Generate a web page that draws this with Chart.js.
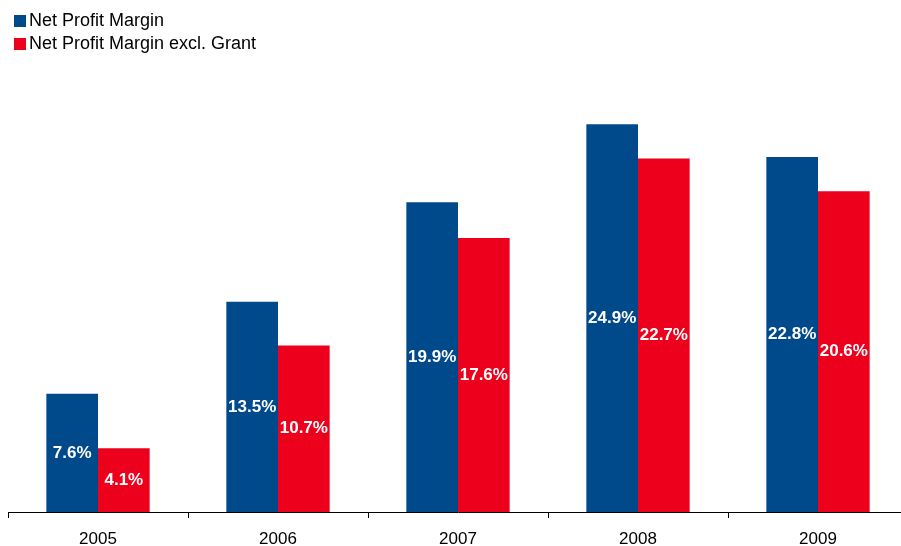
<!DOCTYPE html>
<html>
<head>
<meta charset="utf-8">
<script src="https://cdn.jsdelivr.net/npm/chart.js@4/dist/chart.umd.min.js"></script>
<style>
  html, body { margin: 0; padding: 0; background: #fff; overflow: hidden; }
  body { width: 901px; height: 546px; position: relative; font-family: "Liberation Sans", Arial, sans-serif; }
  #wrap { position: absolute; left: 0; top: 0; width: 916px; height: 546px; }
  #legend { position: absolute; left: 14px; top: 9px; z-index: 2; font-size: 18px; color: #000; }
  #legend div { display: flex; align-items: center; height: 23px; }
  #legend span.sw { display: inline-block; width: 12px; height: 12px; margin-right: 3px; }
</style>
</head>
<body>
<div id="legend"></div>
<div id="wrap"><canvas id="c"></canvas></div>
<script>
const years = ['2005', '2006', '2007', '2008', '2009'];
const netProfitMargin = [7.6, 13.5, 19.9, 24.9, 22.8];
const netProfitMarginExGrant = [4.1, 10.7, 17.6, 22.7, 20.6];
const seriesNames = ['Net Profit Margin', 'Net Profit Margin excl. Grant'];
const seriesColors = ['#004A8C', '#EC001C'];

// legend stacked in two rows, top-left
const legendEl = document.getElementById('legend');
seriesNames.forEach((name, i) => {
  const row = document.createElement('div');
  const sw = document.createElement('span');
  sw.className = 'sw';
  sw.style.background = seriesColors[i];
  row.appendChild(sw);
  row.appendChild(document.createTextNode(name));
  legendEl.appendChild(row);
});

// white percentage labels centred inside each bar
const barLabels = {
  id: 'barLabels',
  afterDatasetsDraw(chart) {
    const ctx = chart.ctx;
    ctx.save();
    ctx.font = 'bold 17px "Liberation Sans", Arial, sans-serif';
    ctx.fillStyle = '#fff';
    ctx.textAlign = 'center';
    ctx.textBaseline = 'middle';
    chart.data.datasets.forEach((ds, di) => {
      chart.getDatasetMeta(di).data.forEach((bar, i) => {
        const y = (bar.y + bar.base) / 2;
        ctx.fillText(ds.data[i].toFixed(1) + '%', bar.x, y);
      });
    });
    ctx.restore();
  }
};

new Chart(document.getElementById('c'), {
  type: 'bar',
  data: {
    labels: years,
    datasets: [
      { label: seriesNames[0], data: netProfitMargin, backgroundColor: seriesColors[0] },
      { label: seriesNames[1], data: netProfitMarginExGrant, backgroundColor: seriesColors[1] }
    ]
  },
  options: {
    responsive: true,
    maintainAspectRatio: false,
    animation: false,
    layout: { padding: { left: 8, right: 8, top: 76, bottom: 0 } },
    datasets: { bar: { categoryPercentage: 0.574, barPercentage: 1.0, borderWidth: 0 } },
    plugins: { legend: { display: false }, tooltip: { enabled: false } },
    scales: {
      x: {
        offset: true,
        grid: { display: true, drawOnChartArea: false, drawTicks: true, tickLength: 6, tickColor: '#000', tickWidth: 1, offset: true },
        border: { display: true, color: '#000', width: 1 },
        ticks: { color: '#000', font: { family: '"Liberation Sans", Arial, sans-serif', size: 17 }, padding: 11 },
        afterFit(scale) { scale.height = 34; }
      },
      y: {
        display: false,
        min: 0,
        max: 28
      }
    }
  },
  plugins: [barLabels]
});
</script>
</body>
</html>
